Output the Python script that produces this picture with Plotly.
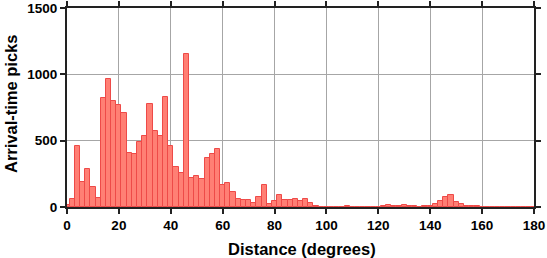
import plotly.graph_objects as go

bin_centers = list(range(0, 182, 2))
counts = [15, 60, 463, 187, 284, 149, 67, 823, 965, 801,
          771, 709, 410, 396, 490, 532, 774, 575, 537, 828,
          463, 301, 254, 1152, 216, 234, 211, 366, 403, 440,
          167, 182, 114, 62, 55, 55, 32, 77, 167, 25,
          47, 92, 55, 55, 62, 42, 62, 32, 10, 0,
          0, 0, 0, 3, 10, 3, 2, 3, 2, 3,
          3, 5, 15, 8, 8, 15, 8, 4, 3, 4,
          10, 22, 47, 72, 92, 37, 25, 10, 5, 4,
          3, 3, 2, 0, 3, 2, 3, 0, 0, 0, 0]
x_ticks = [0, 20, 40, 60, 80, 100, 120, 140, 160, 180]
y_ticks = [0, 500, 1000, 1500]
x_title = "Distance (degrees)"
y_title = "Arrival-time picks"

W, H = 547, 258
ML, MR, MT, MB = 67, 13, 8, 51
PW, PH = W - ML - MR, H - MT - MB

fig = go.Figure(go.Bar(
    x=bin_centers, y=counts, width=2,
    marker=dict(color="#FF7F74", line=dict(color="#EE4A48", width=1)),
))

font_family = "Liberation Sans, Arial, sans-serif"
axis_common = dict(
    showline=True, linewidth=2, linecolor="#222222", mirror="ticks",
    ticks="outside", ticklen=5, tickwidth=1.5, tickcolor="#222222",
    showgrid=True, gridcolor="#a6a6a6", gridwidth=1, zeroline=False,
    automargin=False, ticklabeloverflow="allow",
    tickfont=dict(family=font_family, size=13.5, color="black", weight="bold"),
)
fig.update_xaxes(range=[0, 180], tickvals=x_ticks, **axis_common)
fig.update_yaxes(range=[0, 1500], tickvals=y_ticks, **axis_common)

title_font = dict(family=font_family, size=16.5, color="black", weight="bold")
fig.add_annotation(text=x_title, xref="paper", yref="paper",
                   x=(302 - ML) / PW, y=(MT + PH - 249) / PH,
                   xanchor="center", yanchor="middle", showarrow=False, font=title_font)
fig.add_annotation(text=y_title, xref="paper", yref="paper",
                   x=(11 - ML) / PW, y=(MT + PH - 104) / PH, textangle=-90,
                   xanchor="center", yanchor="middle", showarrow=False, font=title_font)

fig.update_layout(
    width=W, height=H,
    margin=dict(l=ML, r=MR, t=MT, b=MB, autoexpand=False),
    plot_bgcolor="white", paper_bgcolor="white",
    bargap=0, showlegend=False,
)
fig.write_html("out.html")
